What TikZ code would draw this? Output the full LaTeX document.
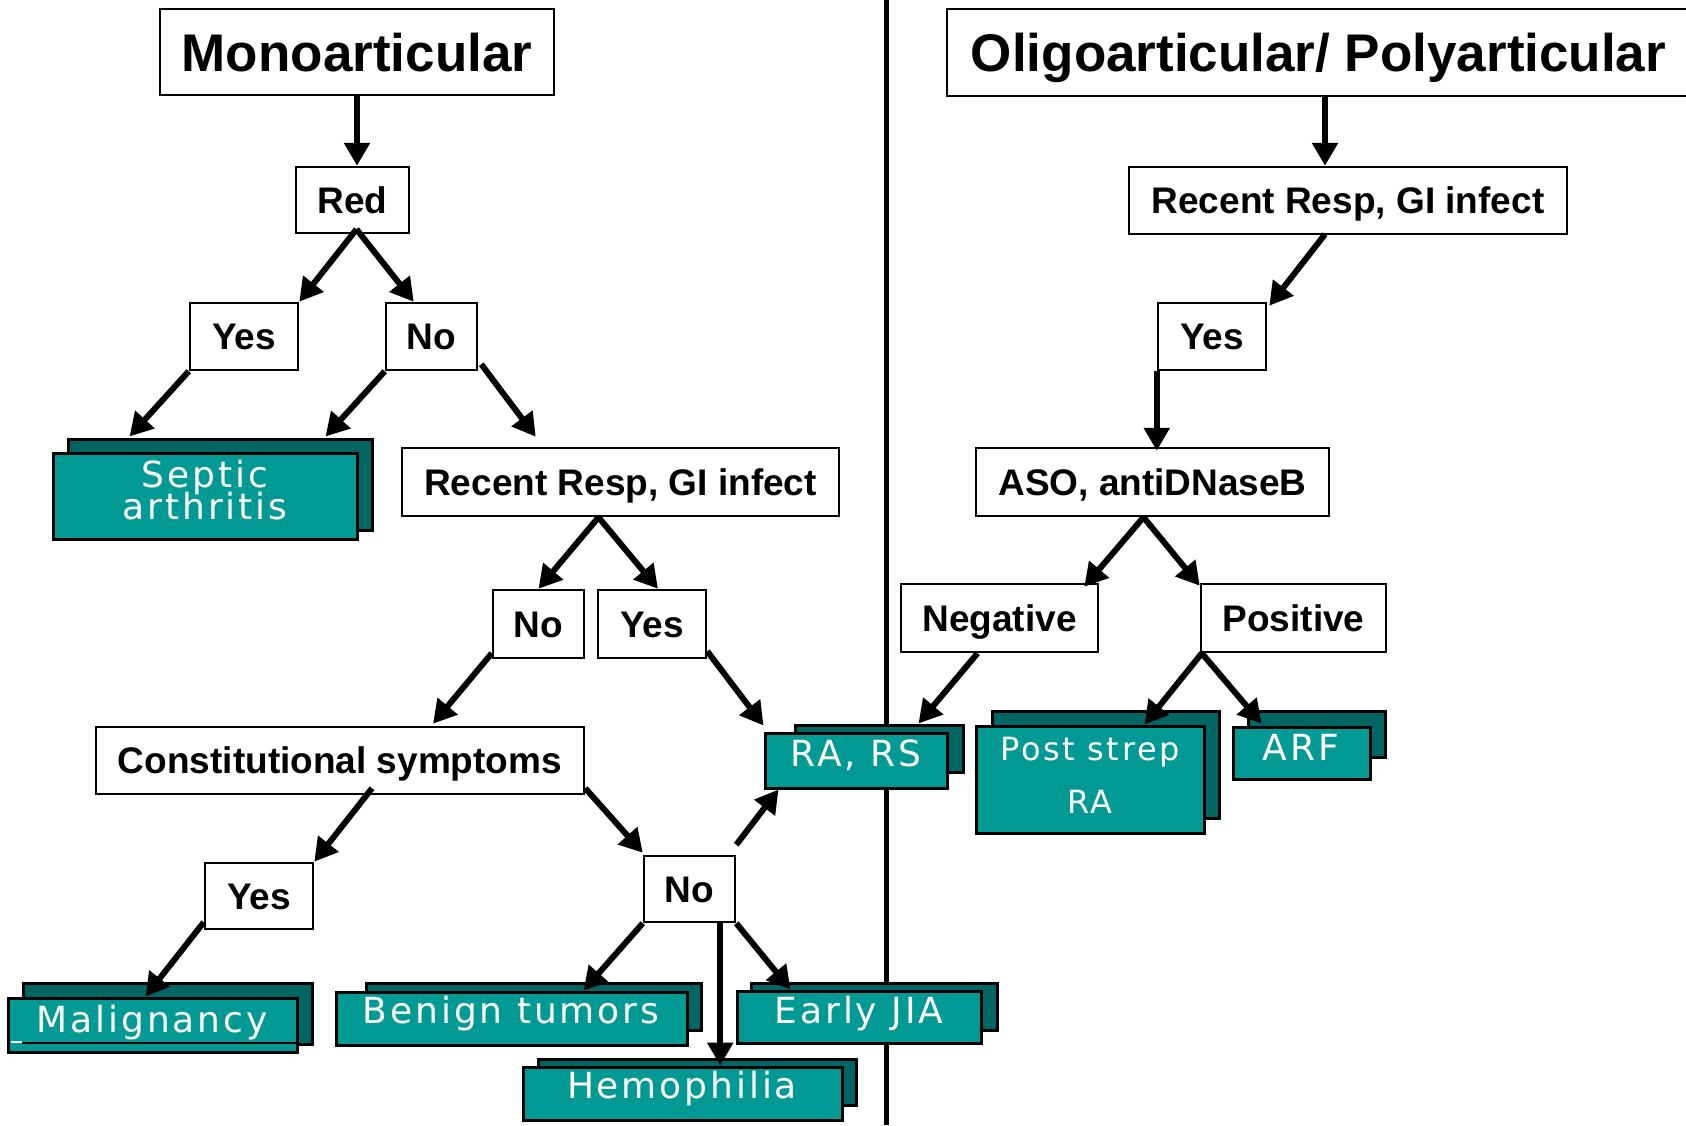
\documentclass[tikz,border=0pt]{standalone}
\usepackage{fontspec}
\setmainfont{Liberation Sans}
\newfontfamily\tealfont[LetterSpace=8]{DejaVu Sans}
\usetikzlibrary{arrows.meta}
\definecolor{tealfront}{RGB}{0,153,148}
\definecolor{tealback}{RGB}{0,102,99}

\begin{document}
\begin{tikzpicture}[x=1pt,y=-1pt,
  wbox/.style={draw=black, line width=2.5pt, fill=white, inner sep=0pt,
    font=\bfseries\fontsize{37}{40}\selectfont, text height=26.5pt, text depth=0pt},
  titlebox/.style={wbox, font=\bfseries\fontsize{53}{60}\selectfont, text height=38pt},
  tfront/.style={draw=black, line width=3pt, fill=tealfront, inner sep=0pt},
  tback/.style={draw=black, line width=3pt, fill=tealback},
  ttext/.style={text=white, anchor=base, inner sep=0pt,
    font=\tealfont\fontsize{36}{40}\selectfont},
  tsmall/.style={ttext, font=\tealfont\fontsize{32}{36}\selectfont},
  arr/.style={line width=6pt, -{Triangle[length=23pt,width=25pt]}},
]
\fill[white] (0,0) rectangle (1686,1125);
\useasboundingbox (0,0) rectangle (1686,1125);

% divider between the two halves
\draw[line width=5pt] (886,0) -- (886,1125);

% ---------- left half: monoarticular ----------
\node[titlebox, minimum width=394pt, minimum height=86pt] (mono) at (357,52) {Monoarticular};
\node[wbox, minimum width=113pt, minimum height=66pt] (red) at (352.5,200) {Red};
\node[wbox, minimum width=108pt, minimum height=67pt] (yesL) at (244,336.5) {Yes};
\node[wbox, minimum width=91pt, minimum height=67pt] (noL) at (431.5,336.5) {No};
\node[wbox, minimum width=437pt, minimum height=68pt] (recL) at (620.5,482) {Recent Resp, GI infect};
\node[wbox, minimum width=91pt, minimum height=68pt] (noM) at (538.5,624) {No};
\node[wbox, minimum width=108pt, minimum height=68pt] (yesM) at (652,624) {Yes};
\node[wbox, minimum width=488pt, minimum height=67pt] (cons) at (340,760.5) {Constitutional symptoms};
\node[wbox, minimum width=108pt, minimum height=66pt] (yesLo) at (259,896) {Yes};
\node[wbox, minimum width=91pt, minimum height=66pt] (noLo) at (689.5,889) {No};

% ---------- right half: oligo/polyarticular ----------
\node[titlebox, minimum width=743pt, minimum height=87pt] (oligo) at (1318.5,52.5) {Oligoarticular/ Polyarticular};
\node[wbox, minimum width=438pt, minimum height=67pt] (recR) at (1348,200.5) {Recent Resp, GI infect};
\node[wbox, minimum width=108pt, minimum height=67pt] (yesR) at (1212,336.5) {Yes};
\node[wbox, minimum width=353pt, minimum height=68pt] (aso) at (1152.5,482) {ASO, antiDNaseB};
\node[wbox, minimum width=197pt, minimum height=68pt] (neg) at (999.5,618) {Negative};
\node[wbox, minimum width=185pt, minimum height=68pt] (pos) at (1293.5,618) {Positive};

% ---------- teal outcome boxes (shadow card behind each) ----------
\draw[tback] (68,439) rectangle (372,530);
\node[tfront, minimum width=304pt, minimum height=86pt] (septic) at (205,496) {};
\node[ttext] at (205,487) {Septic};
\node[ttext] at (205,519) {arthritis};

\draw[tback] (23,983) rectangle (312,1044);
\node[tfront, minimum width=289pt, minimum height=54pt] (malig) at (152.5,1025) {};
\draw[line width=1.5pt] (22,1043) -- (296,1043);
\draw[white, line width=1.5pt] (11,1042) -- (22,1042);
\node[ttext] at (152,1032) {Malignancy};

\draw[tback] (366,983) rectangle (701,1030);
\node[tfront, minimum width=351pt, minimum height=53pt] (benign) at (511.5,1018.5) {};
\node[ttext] at (511,1023) {Benign tumors};

\draw[tback] (751,983) rectangle (997,1030);
\node[tfront, minimum width=244pt, minimum height=52pt] (early) at (859,1017) {};
\node[ttext] at (859,1023) {Early JIA};

\draw[tback] (538,1059) rectangle (856,1105);
\node[tfront, minimum width=319pt, minimum height=53pt] (hemo) at (682.5,1093.5) {};
\node[ttext] at (682,1098) {Hemophilia};

\draw[tback] (795,725) rectangle (963,772);
\node[tfront, minimum width=182pt, minimum height=55pt] (rars) at (856,760.5) {};
\node[ttext] at (856,766) {RA, RS};

\draw[tback] (992,711) rectangle (1219,818);
\node[tfront, minimum width=228pt, minimum height=107pt] (post) at (1090,779.5) {};
\node[tsmall] at (1090,760) {Post strep};
\node[tsmall] at (1090,813) {RA};

\draw[tback] (1248,711) rectangle (1385,757);
\node[tfront, minimum width=137pt, minimum height=52pt] (arf) at (1301.5,753) {};
\node[ttext] at (1301,760) {ARF};

% ---------- connectors, left half ----------
\draw[arr] (mono.south) -- (mono.south |- red.north);
\draw[arr] ([xshift=4pt,yshift=5pt]red.south) -- (yesL.north east);
\draw[arr] ([xshift=4pt,yshift=5pt]red.south) -- ([xshift=29pt]noL.north west);
\draw[arr] (yesL.south west) -- ([xshift=78pt,yshift=15pt]septic.north west);
\draw[arr] (noL.south west) -- ([xshift=274pt,yshift=15pt]septic.north west);
\draw[arr] ([xshift=3pt,yshift=7pt]noL.south east) -- ([xshift=135pt,yshift=10pt]recL.north west);
\draw[arr] ([xshift=-22pt]recL.south) -- (noM.north);
\draw[arr] ([xshift=-22pt]recL.south) -- ([xshift=6pt]yesM.north);
\draw[arr] ([yshift=6pt]noM.south west) -- ([xshift=93pt,yshift=2pt]cons.north);
\draw[arr] ([yshift=8pt]yesM.south east) -- ([yshift=6pt]rars.north west);
\draw[arr] ([xshift=32pt,yshift=7pt]cons.south) -- (yesLo.north east);
\draw[arr] ([yshift=7pt]cons.south east) -- ([yshift=2pt]noLo.north west);
\draw[arr] ([yshift=10pt]noLo.north east) -- ([xshift=15pt]rars.south west);
\draw[arr] ([yshift=8pt]yesLo.south west) -- ([xshift=139pt]malig.north west);
\draw[arr] (noLo.south west) -- ([xshift=249pt]benign.north west);
\draw[arr] (noLo.south east) -- ([xshift=55pt]early.north west);
\coordinate (hs) at ([xshift=-16pt]noLo.south east);
\draw[arr] (hs) -- (hs |- hemo.north);

% ---------- connectors, right half ----------
\coordinate (rt) at ([xshift=-23pt]recR.north);
\draw[arr] (rt |- oligo.south) -- (rt);
\draw[arr] ([yshift=1pt]rt |- recR.south) -- ([xshift=2pt,yshift=-4pt]yesR.north east);
\draw[arr] (yesR.south west) -- ([yshift=-4pt]yesR.south west |- aso.north);
\draw[arr] ([xshift=-9pt]aso.south) -- ([xshift=-15pt,yshift=-4pt]neg.north east);
\draw[arr] ([xshift=-9pt]aso.south) -- ([yshift=-3pt]pos.north west);
\draw[arr] ([xshift=-22pt]neg.south) -- ([xshift=-30pt,yshift=8pt]rars.north east);
\draw[arr] ([xshift=2pt]pos.south west) -- ([xshift=-61pt]post.north east);
\draw[arr] ([xshift=2pt]pos.south west) -- ([xshift=30pt,yshift=2pt]arf.north west);
\end{tikzpicture}
\end{document}
